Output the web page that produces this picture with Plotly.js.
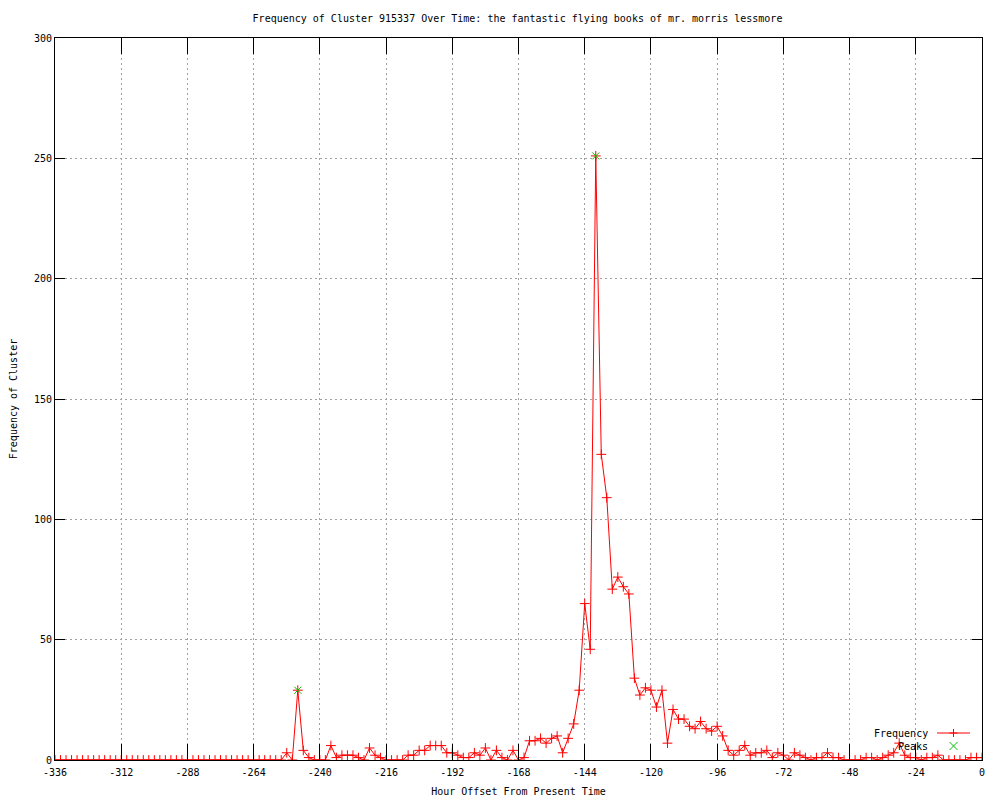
<!DOCTYPE html>
<html><head><meta charset="utf-8">
<script src="https://cdn.plot.ly/plotly-3.0.1.min.js"></script>
<style>body{margin:0;background:#fff}#chart{width:1000px;height:800px}</style>
</head><body><div id="chart"></div>
<script>
// Hour offsets (x values)
const hours = [
  -336,-334,-332,-330,-328,-326,-324,-322,-320,-318,
  -316,-314,-312,-310,-308,-306,-304,-302,-300,-298,
  -296,-294,-292,-290,-288,-286,-284,-282,-280,-278,
  -276,-274,-272,-270,-268,-266,-264,-262,-260,-258,
  -256,-254,
  -252,-250,-248,-246,-244,-242,-240,-238,-236,-234,
  -232,-230,-228,-226,-224,-222,-220,-218,-216,-214,
  -212,-210,-208,-206,-204,-202,-200,-198,-196,-194,
  -192,-190,-188,-186,-184,-182,-180,-178,-176,-174,
  -172,-170,-168,-166,-164,-162,-160,-158,-156,-154,
  -152,-150,-148,-146,-144,-142,-140,-138,-136,-134,
  -132,-130,-128,-126,-124,-122,-120,-118,-116,-114,
  -112,-110,-108,-106,-104,-102,-100,-98,-96,-94,
  -92,-90,-88,-86,-84,-82,-80,-78,-76,-74,
  -72,-70,-68,-66,-64,-62,-60,-58,-56,-54,
  -52,-50,-48,-46,-44,-42,-40,-38,-36,-34,
  -32,-30,-28,-26,-24,-22,-20,-18,-16,-14,
  -12,-10,-8,-6,-4,-2,0
];
// Frequency of cluster per hour offset
const frequency = [
  0,0,0,0,0,0,0,0,0,0,
  0,0,0,0,0,0,0,0,0,0,
  0,0,0,0,0,0,0,0,0,0,
  0,0,0,0,0,0,0,0,0,0,
  0,0,
  3,0,29,4,1,0,0,0,6,1,
  2,2,2,1,0,5,2,1,0,0,
  0,0,2,2,4,4,6,6,6,3,
  3,2,1,1,3,2,5,0,4,1,
  0,4,0,1,8,8,9,7,9,10,
  3,9,15,29,65,46,251,127,109,71,
  76,72,69,34,27,30,29,22,29,7,
  21,17,17,14,13,16,13,12,14,10,
  4,2,4,6,2,3,3,4,1,3,
  2,0,3,2,1,0,1,1,3,1,
  1,0,0,0,0,1,1,0,1,2,
  3,7,2,1,1,0,1,1,2,0,
  0,0,0,0,1,1,1
];
// Detected peaks
const peakHours = [-248, -140];
const peakValues = [29, 251];
// Tick labels
const xTickVals = [-336,-312,-288,-264,-240,-216,-192,-168,-144,-120,-96,-72,-48,-24,0];
const xTickText = ["-336","-312","-288","-264","-240","-216","-192","-168","-144","-120","-96","-72","-48","-24","0"];
const yTickVals = [0,50,100,150,200,250,300];
const yTickText = ["0","50","100","150","200","250","300"];

const FONT = 'DejaVu Sans Mono, monospace';
const RED = '#ff0000';
const GREEN = '#00c000';

const traces = [
  {
    x: hours, y: frequency, type: 'scatter', mode: 'lines+markers', name: 'Frequency',
    line: {color: RED, width: 1},
    marker: {symbol: 'cross-thin-open', size: 7, color: RED, line: {color: RED, width: 1}},
    showlegend: false, cliponaxis: true
  },
  {
    x: peakHours, y: peakValues, type: 'scatter', mode: 'markers', name: 'Peaks',
    marker: {symbol: 'x-thin-open', size: 7, color: GREEN, line: {color: GREEN, width: 1}},
    showlegend: false
  }
];

// legend geometry in paper units (plot area 55..982 x, 38..760 y)
const px = v => (v - 55) / 927;
const py = v => (760 - v) / 722;

const layout = {
  width: 1000, height: 800,
  paper_bgcolor: '#ffffff', plot_bgcolor: '#ffffff',
  margin: {l: 55, r: 18, t: 38, b: 40, pad: 0},
  font: {family: FONT, size: 10, color: '#000000'},
  showlegend: false,
  title: {
    text: 'Frequency of Cluster 915337 Over Time: the fantastic flying books of mr. morris lessmore',
    font: {family: FONT, size: 10, color: '#000'},
    x: px(517.5), xref: 'paper', xanchor: 'center',
    y: 1 - 18/800, yref: 'container', yanchor: 'middle'
  },
  xaxis: {
    range: [-336, 0], autorange: false,
    tickmode: 'array', tickvals: xTickVals, ticktext: xTickText,
    ticks: 'inside', ticklen: 16, tickwidth: 1, tickcolor: '#000',
    ticklabelstandoff: 3,
    showline: true, linecolor: '#000', linewidth: 1, mirror: 'ticks',
    showgrid: true, gridcolor: '#a0a0a0', gridwidth: 1, griddash: '2px,3px',
    zeroline: false,
    tickfont: {family: FONT, size: 10, color: '#000'},
    title: {text: 'Hour Offset From Present Time', font: {family: FONT, size: 10, color: '#000'}, standoff: 10},
    automargin: false
  },
  yaxis: {
    range: [0, 300], autorange: false,
    tickmode: 'array', tickvals: yTickVals, ticktext: yTickText,
    ticks: 'inside', ticklen: 10, tickwidth: 1, tickcolor: '#000',
    showline: true, linecolor: '#000', linewidth: 1, mirror: 'ticks',
    showgrid: true, gridcolor: '#a0a0a0', gridwidth: 1, griddash: '2px,3px',
    zeroline: false,
    tickfont: {family: FONT, size: 10, color: '#000'},
    title: {text: 'Frequency of Cluster', font: {family: FONT, size: 10, color: '#000'}, standoff: 14},
    automargin: false
  },
  annotations: [
    {text: 'Frequency', xref: 'paper', yref: 'paper', x: px(930), y: py(733), xanchor: 'right', yanchor: 'middle', showarrow: false, font: {family: FONT, size: 10, color: '#000'}},
    {text: 'Peaks', xref: 'paper', yref: 'paper', x: px(930), y: py(746), xanchor: 'right', yanchor: 'middle', showarrow: false, font: {family: FONT, size: 10, color: '#000'}}
  ],
  shapes: [
    {type: 'line', xref: 'paper', yref: 'paper', x0: px(937), x1: px(970), y0: py(733), y1: py(733), line: {color: RED, width: 1}},
    {type: 'path', xref: 'paper', yref: 'paper', xsizemode: 'pixel', ysizemode: 'pixel', xanchor: px(953.5), yanchor: py(733),
      path: 'M -4 0 L 4 0 M 0 -4 L 0 4', line: {color: RED, width: 1}},
    {type: 'path', xref: 'paper', yref: 'paper', xsizemode: 'pixel', ysizemode: 'pixel', xanchor: px(953.5), yanchor: py(746),
      path: 'M -4 -4 L 4 4 M -4 4 L 4 -4', line: {color: GREEN, width: 1}}
  ]
};

Plotly.newPlot('chart', traces, layout, {displayModeBar: false, staticPlot: true});
</script>
</body></html>
